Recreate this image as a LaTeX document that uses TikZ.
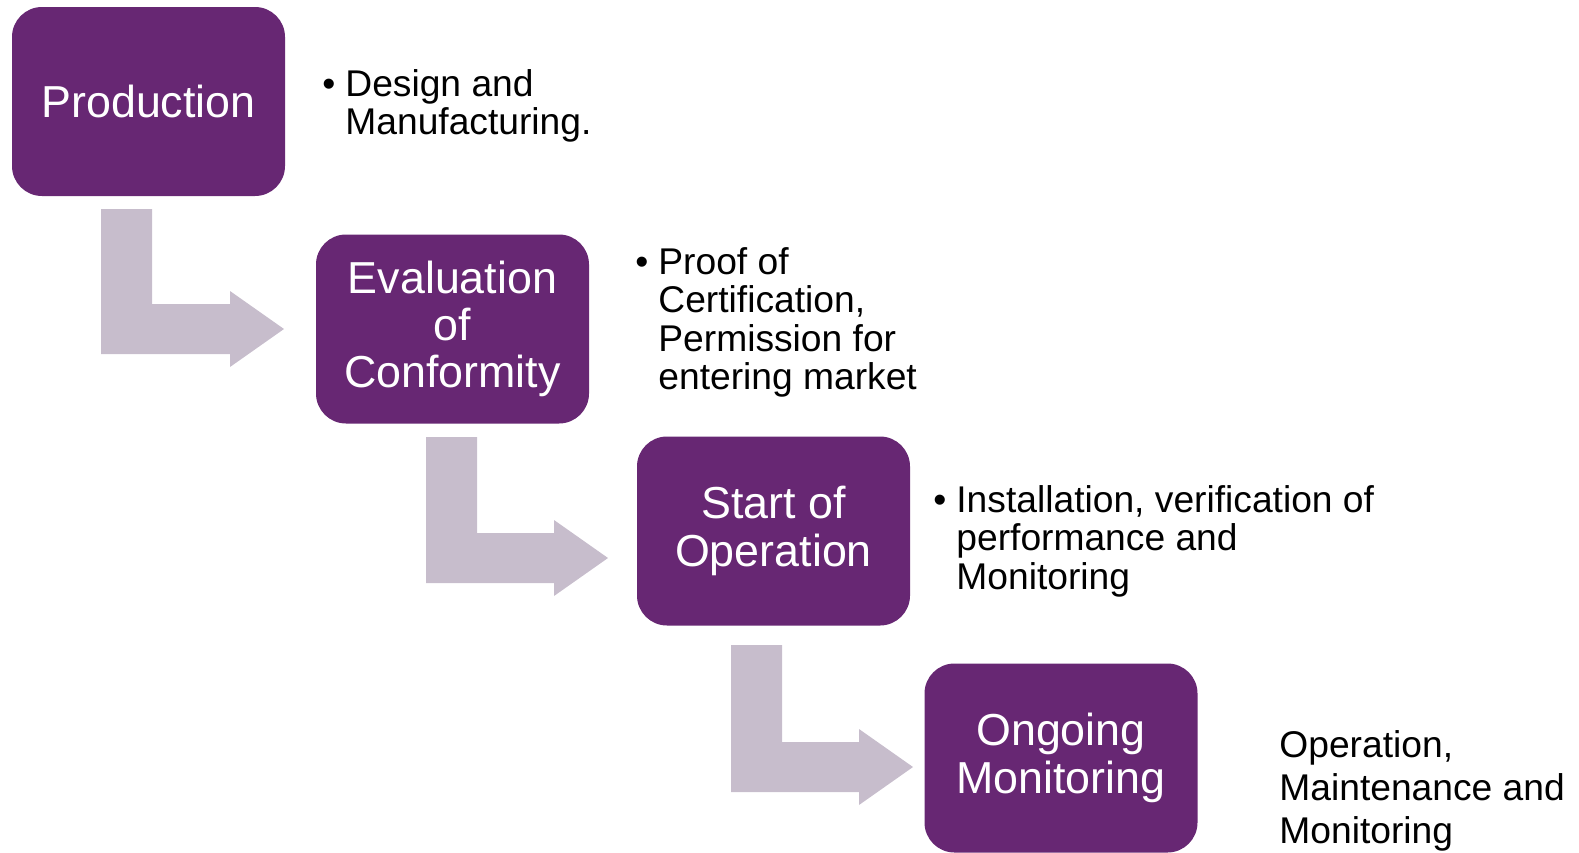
\documentclass[tikz,border=0pt]{standalone}
\usepackage{fontspec}
\setmainfont{Liberation Sans}
\usetikzlibrary{calc}

\definecolor{stagepurple}{RGB}{103,39,115}
\definecolor{flowgrey}{RGB}{199,189,204}

\tikzset{
  stage/.style={fill=stagepurple, rounded corners=15pt, minimum width=136.5pt,
    minimum height=94.5pt, inner sep=0pt, text=white, align=center,
    font=\fontsize{22.4}{23.6}\selectfont},
  note/.style={anchor=base west, inner sep=0pt, font=\fontsize{18.6}{19.25}\selectfont},
  flow/.style={fill=flowgrey}
}

% bent block arrow: #1 = top left of the shaft, #2 = tip
\newcommand{\bentarrow}[2]{%
  \fill[flow] (#1) -- ++(51,0) -- ($(#2 -| #1)+(51,-25)$) -- ($(#2)+(-54,-25)$)
    -- ($(#2)+(-54,-38)$) -- (#2) -- ($(#2)+(-54,38)$) -- ($(#2)+(-54,25)$)
    -- ($(#2 -| #1)+(0,25)$) -- cycle;}

\newcommand{\bul}{\makebox[11.5pt][l]{\textbullet}}

\begin{document}
\begin{tikzpicture}[x=0.5pt, y=-0.5pt]
  \useasboundingbox (0,0) rectangle (1579,852);

  % stages
  \node[stage] (prod) at (148.5,101.5) {Production};
  \node[stage] (eval) at (452.5,329) {Evaluation\\of\\Conformity};
  \node[stage] (start) at (773.5,531) {Start of\\Operation};
  \node[stage] (ongoing) at (1061,758) {Ongoing\\Monitoring};

  % notes
  \node[note] (prodnote) at (322,96)
    {\begin{tabular}[t]{@{}l@{}l@{}}\bul & Design and\\ & Manufacturing.\end{tabular}};
  \node[note] (evalnote) at (635,274)
    {\begin{tabular}[t]{@{}l@{}l@{}}\bul & Proof of\\ & Certification,\\ & Permission for\\ & entering market\end{tabular}};
  \node[note] (startnote) at (933,512)
    {\begin{tabular}[t]{@{}l@{}l@{}}\bul & Installation, verification of\\ & performance and\\ & Monitoring\end{tabular}};
  \node[note, font=\fontsize{18.6}{21.65}\selectfont] (ongoingnote) at (1279,757)
    {\begin{tabular}[t]{@{}l@{}}Operation,\\Maintenance and\\Monitoring\end{tabular}};

  % bent arrows
  \coordinate (a1s) at (101,209);
  \coordinate (a1t) at (284,329);
  \coordinate (a2s) at (426,437);
  \coordinate (a2t) at (608,558);
  \coordinate (a3s) at (731,645);
  \coordinate (a3t) at (913,767);
  \bentarrow{a1s}{a1t}
  \bentarrow{a2s}{a2t}
  \bentarrow{a3s}{a3t}
\end{tikzpicture}
\end{document}
